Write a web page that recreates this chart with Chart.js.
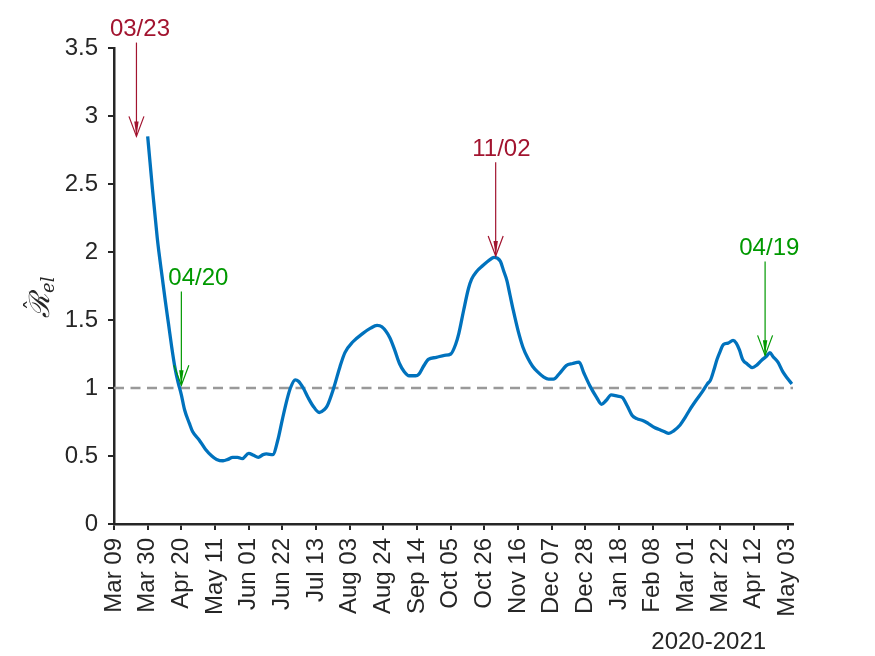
<!DOCTYPE html>
<html><head><meta charset="utf-8">
<script src="https://cdn.jsdelivr.net/npm/chart.js@4.4.1/dist/chart.umd.min.js"></script>
<style>html,body{margin:0;padding:0;background:#fff;}#wrap{width:875px;height:656px;}</style>
</head><body><div id="wrap"><canvas id="c" width="875" height="656"></canvas></div>
<script>
// days since 2020-03-09
const days = [21,22,23,24,25,26,27,28,30,32,34,36,38,40,42,44,47,49,53,57,61,64,68,71,74,77,80,84,87,90,93,95,99,102,105,108,110,113,115,118,121,124,128,131,133,137,141,144,149,155,160,164,167,172,175,178,181,184,188,190,193,196,201,206,210,213,215,218,221,223,226,230,234,237,239,241,243,245,247,249,252,255,258,261,264,268,271,274,278,282,286,290,293,297,301,304,307,310,314,317,320,323,326,330,333,337,340,343,346,349,353,356,359,363,367,370,372,374,376,378,380,383,386,388,390,392,395,398,401,404,407,409,411,414,417,420,422.7];
const rValues = [2.85,2.72,2.59,2.46,2.34,2.22,2.10,2.00,1.82,1.64,1.47,1.30,1.15,1.04,0.95,0.84,0.74,0.68,0.62,0.55,0.50,0.475,0.465,0.475,0.49,0.49,0.48,0.52,0.505,0.49,0.51,0.515,0.51,0.61,0.77,0.92,1.00,1.06,1.05,1.00,0.93,0.87,0.82,0.84,0.87,1.00,1.16,1.26,1.34,1.40,1.44,1.46,1.45,1.37,1.28,1.18,1.12,1.09,1.09,1.10,1.16,1.21,1.225,1.24,1.25,1.32,1.40,1.57,1.73,1.80,1.855,1.90,1.94,1.96,1.955,1.93,1.86,1.79,1.68,1.57,1.42,1.30,1.22,1.16,1.12,1.08,1.065,1.065,1.11,1.165,1.18,1.19,1.11,1.01,0.93,0.88,0.91,0.95,0.94,0.93,0.87,0.80,0.775,0.76,0.74,0.71,0.695,0.68,0.667,0.685,0.728,0.78,0.84,0.91,0.975,1.03,1.06,1.13,1.21,1.27,1.32,1.33,1.35,1.33,1.28,1.21,1.175,1.15,1.17,1.206,1.235,1.26,1.23,1.19,1.12,1.07,1.03];
const tickDays = [0,21,42,63,84,105,126,147,168,189,210,231,252,273,294,315,336,357,378,399,420];
const tickLabels = ['Mar 09','Mar 30','Apr 20','May 11','Jun 01','Jun 22','Jul 13','Aug 03','Aug 24','Sep 14','Oct 05','Oct 26','Nov 16','Dec 07','Dec 28','Jan 18','Feb 08','Mar 01','Mar 22','Apr 12','May 03'];
const yTicks = [0,0.5,1,1.5,2,2.5,3,3.5];
const refLevel = 1;
const xMaxDay = 423.4;
const annLabels = ['03/23','04/20','11/02','04/19'];
const annDays = [14,42,238,406];
const annTipValues = [2.85,1.02,1.97,1.24];
const annTailValues = [3.54,1.71,2.66,1.93];
const annColors = ['#A2142F','#009900','#A2142F','#009900'];
const annTextDx = [3.5,17,5.7,4.2];
const xSubTitle = '2020-2021';

const FONT = "'Liberation Sans', Arial, Helvetica, sans-serif";
const AX = '#262626';

const decor = {
  id:'decor',
  beforeDraw(chart){
    const ctx = chart.ctx; ctx.save(); ctx.fillStyle='#fff'; ctx.fillRect(0,0,chart.width,chart.height); ctx.restore();
  },
  afterDraw(chart){
    const ctx = chart.ctx, xs = chart.scales.x, ys = chart.scales.y;
    ctx.save();
    annLabels.forEach((lab,i)=>{
      const tx = xs.getPixelForValue(annDays[i]);
      const ty = ys.getPixelForValue(annTipValues[i]);
      const tl = ys.getPixelForValue(annTailValues[i]);
      ctx.strokeStyle = annColors[i]; ctx.fillStyle = annColors[i];
      ctx.lineWidth = 1.2;
      ctx.beginPath(); ctx.moveTo(tx, tl); ctx.lineTo(tx, ty); ctx.stroke();
      ctx.beginPath(); ctx.moveTo(tx-7.5, ty-20); ctx.lineTo(tx, ty); ctx.lineTo(tx+7.5, ty-20); ctx.stroke();
      ctx.beginPath(); ctx.moveTo(tx-2.2, ty-15); ctx.lineTo(tx, ty); ctx.lineTo(tx+2.2, ty-15); ctx.closePath(); ctx.fill();
      ctx.font = '24px ' + FONT; ctx.textAlign='center'; ctx.textBaseline='alphabetic';
      ctx.fillText(lab, tx + annTextDx[i], tl - 6.7);
    });
    // x sub title
    ctx.fillStyle = AX; ctx.font = '24px ' + FONT; ctx.textAlign='center'; ctx.textBaseline='alphabetic';
    ctx.fillText(xSubTitle, 708.7, 649);
    // y label  R-hat sub el
    ctx.translate(48.5, 318); ctx.rotate(-Math.PI/2);
    ctx.font = "italic 28px 'DejaVu Serif', serif"; ctx.textAlign='left';
    const R = '\u211B';
    const w = ctx.measureText(R).width;
    ctx.fillText(R, 0, 0);
    ctx.font = "22px 'DejaVu Serif', serif"; ctx.textAlign='center';
    ctx.fillText('\u02C6', w*0.55, -8);
    ctx.font = "italic 18px 'DejaVu Serif', serif"; ctx.textAlign='left';
    ctx.fillText('el', w + 1, 5);
    ctx.restore();
  }
};

Chart.defaults.font.family = FONT;
Chart.defaults.color = AX;

new Chart(document.getElementById('c'), {
  type:'line',
  data:{
    datasets:[
      { data: days.map((d,i)=>({x:d, y:rValues[i]})), borderColor:'#0072BD', borderWidth:3.3, pointRadius:0, cubicInterpolationMode:'monotone', fill:false, order:0 },
      { data: [{x:0,y:refLevel},{x:xMaxDay,y:refLevel}], borderColor:'#999999', borderWidth:2.7, borderDash:[10,6.5], pointRadius:0, fill:false, order:1 }
    ]
  },
  options:{
    responsive:false, devicePixelRatio:1, animation:false,
    layout:{ padding:{ left:0, right:82, top:48, bottom:0 } },
    plugins:{ legend:{display:false}, tooltip:{enabled:false} },
    scales:{
      x:{ type:'linear', min:0, max:xMaxDay,
        afterBuildTicks(s){ s.ticks = tickDays.map(v=>({value:v})); },
        afterFit(s){ s.height = 132; },
        grid:{ display:true, drawOnChartArea:false, drawTicks:true, tickLength:6, color:AX, lineWidth:2 },
        border:{ display:true, color:AX, width:2.5 },
        ticks:{ autoSkip:false, maxRotation:90, minRotation:90, padding:8, font:{size:24}, color:AX,
          callback(v){ const k = tickDays.indexOf(v); return k>=0 ? tickLabels[k] : ''; } }
      },
      y:{ type:'linear', min:0, max:3.5,
        afterBuildTicks(s){ s.ticks = yTicks.map(v=>({value:v})); },
        afterFit(s){ s.width = 114; },
        grid:{ display:true, drawOnChartArea:false, drawTicks:true, tickLength:6, color:AX, lineWidth:2 },
        border:{ display:true, color:AX, width:2.5 },
        ticks:{ padding:10, font:{size:24}, color:AX, callback(v){ return String(v); } }
      }
    }
  },
  plugins:[decor]
});
</script></body></html>
